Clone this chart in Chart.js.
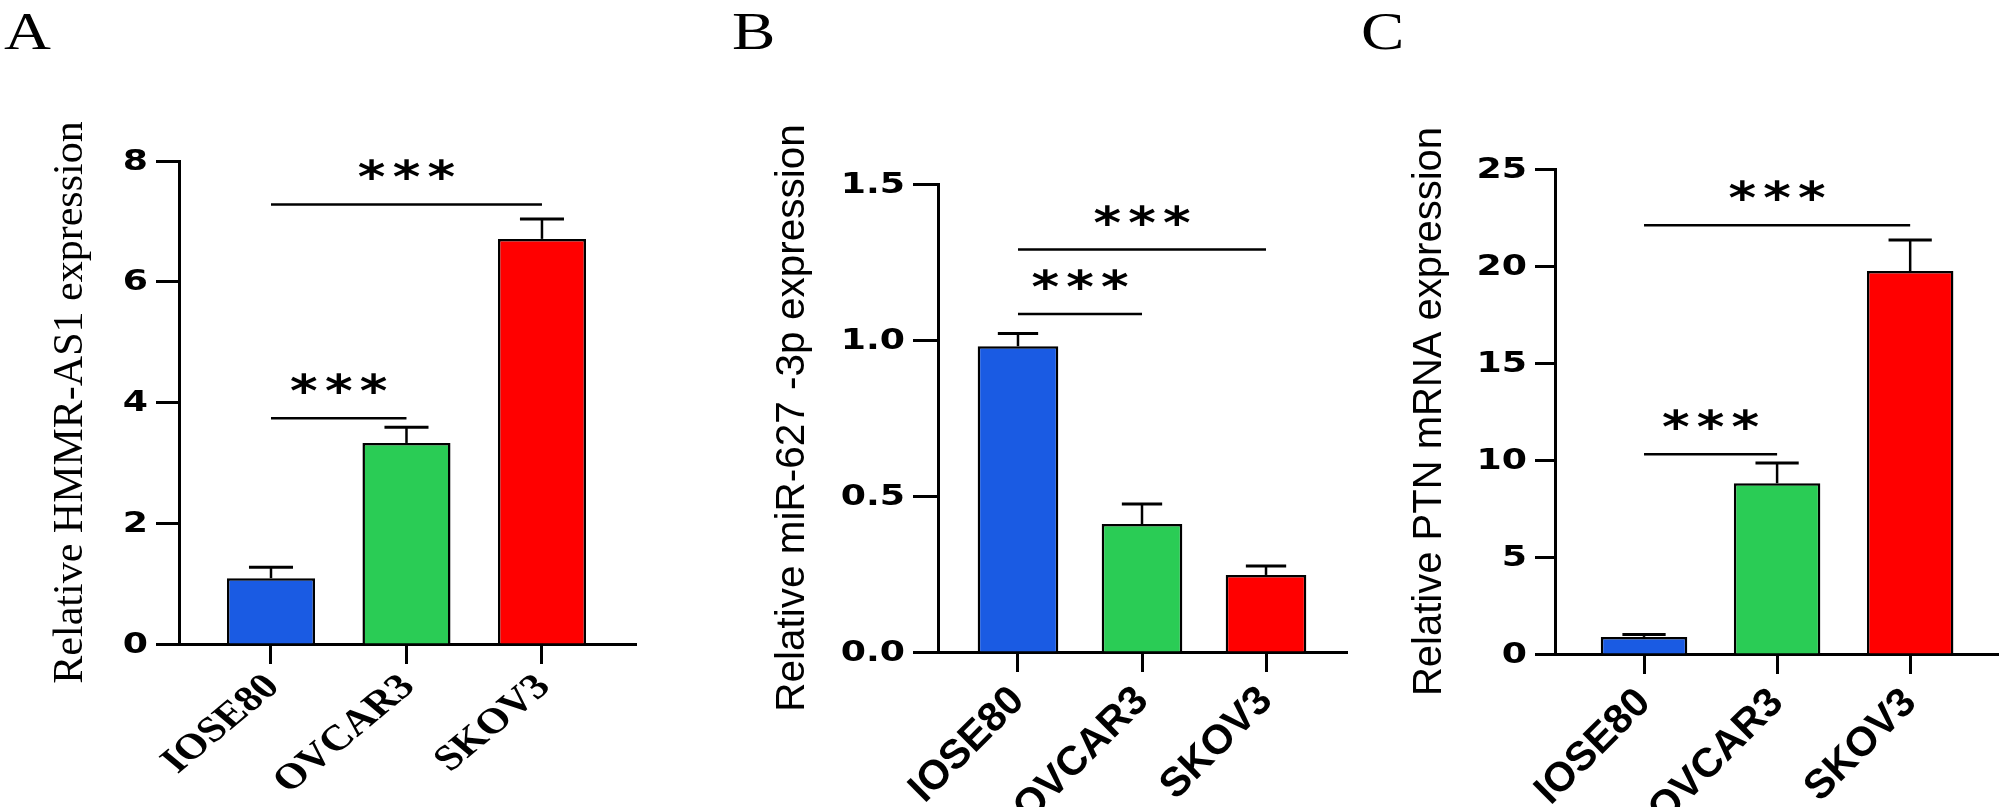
<!DOCTYPE html>
<html>
<head>
<meta charset="utf-8">
<script src="https://cdn.jsdelivr.net/npm/chart.js@4.4.1/dist/chart.umd.min.js"></script>
<style>
  html, body { margin: 0; padding: 0; background: #fff; }
  #wrap { position: relative; width: 2008px; height: 807px; overflow: hidden; background: #fff; }
  #wrap canvas { position: absolute; top: 0; }
  .panel-letter {
    position: absolute; top: 6px; margin: 0;
    font-family: "Liberation Serif", "Times New Roman", serif;
    font-size: 52px; line-height: 1; color: #000;
    transform: scaleX(1.25); transform-origin: left top;
  }
</style>
</head>
<body>
<div id="wrap">
  <canvas id="chart-a" width="680" height="807" style="left:0px"></canvas>
  <canvas id="chart-b" width="670" height="807" style="left:680px"></canvas>
  <canvas id="chart-c" width="658" height="807" style="left:1350px"></canvas>
  <div class="panel-letter" style="left:4px">A</div>
  <div class="panel-letter" style="left:732px">B</div>
  <div class="panel-letter" style="left:1361px">C</div>
</div>
<script>
// --- DATOS ---
const categories = ["IOSE80", "OVCAR3", "SKOV3"];
const barColors = ["#1a5be3", "#2acc55", "#ff0000"];

// A: HMMR-AS1
const hmmrMeans = [1.09, 3.33, 6.71];
const hmmrErrors = [0.18, 0.26, 0.33];
const hmmrTicks = [0, 2, 4, 6, 8];
const hmmrSig = [
  { from: 0, to: 1, level: 3.74, label: "***" },
  { from: 0, to: 2, level: 7.28, label: "***" }
];

// B: miR-627-3p
const mirMeans = [0.98, 0.41, 0.247];
const mirErrors = [0.041, 0.064, 0.029];
const mirTicks = [0, 0.5, 1.0, 1.5];
const mirSig = [
  { from: 0, to: 1, level: 1.083, label: "***" },
  { from: 0, to: 2, level: 1.29, label: "***" }
];

// C: PTN mRNA
const ptnMeans = [0.88, 8.8, 19.74];
const ptnErrors = [0.12, 1.05, 1.6];
const ptnTicks = [0, 5, 10, 15, 20, 25];
const ptnSig = [
  { from: 0, to: 1, level: 10.3, label: "***" },
  { from: 0, to: 2, level: 22.1, label: "***" }
];

// --- PLUGIN: etiquetas de ejes, barras de error y significancia ---
const annotatePlugin = {
  id: "annotate",
  afterDraw(chart, args, opts) {
    const { ctx } = chart;
    const xs = chart.scales.x;
    const ys = chart.scales.y;
    ctx.save();
    ctx.fillStyle = "#000";

    // etiquetas del eje Y (negrita, algo ensanchadas como en la figura)
    ctx.font = "bold 29px 'DejaVu Sans'";
    ctx.textAlign = "right";
    ctx.textBaseline = "middle";
    ys.ticks.forEach((t) => {
      ctx.save();
      ctx.translate(ys.right - opts.tickLen - 8, ys.getPixelForValue(t.value) + 1);
      ctx.scale(1.25, 1);
      ctx.fillText(opts.fmt(t.value), 0, 0);
      ctx.restore();
    });

    // etiquetas del eje X estiradas (solo panel A)
    if (opts.xStretch) {
      ctx.font = opts.xStretch.font;
      ctx.textAlign = "right";
      ctx.textBaseline = "alphabetic";
      xs.ticks.forEach((t) => {
        ctx.save();
        ctx.translate(xs.getPixelForValue(t.value) + opts.xStretch.dx, xs.top + opts.xStretch.dy);
        ctx.scale(opts.xStretch.k, 1);
        ctx.rotate(-Math.PI / 4);
        ctx.fillText(categories[t.value], 0, 0);
        ctx.restore();
      });
    }
    ctx.restore();
  },
  afterDatasetsDraw(chart, args, opts) {
    const { ctx } = chart;
    const xs = chart.scales.x;
    const ys = chart.scales.y;
    const meta = chart.getDatasetMeta(0);
    ctx.save();
    ctx.strokeStyle = "#000";
    ctx.fillStyle = "#000";

    opts.means.forEach((m, i) => {
      const bar = meta.data[i];
      const capHalf = bar.width / 4;
      const yTop = ys.getPixelForValue(m);
      const yErr = ys.getPixelForValue(m + opts.errors[i]);
      ctx.lineWidth = 2.5;
      ctx.beginPath();
      ctx.moveTo(bar.x, yTop);
      ctx.lineTo(bar.x, yErr);
      ctx.stroke();
      ctx.lineWidth = 3;
      ctx.beginPath();
      ctx.moveTo(bar.x - capHalf, yErr);
      ctx.lineTo(bar.x + capHalf, yErr);
      ctx.stroke();
    });

    opts.sig.forEach((s) => {
      const x1 = xs.getPixelForValue(s.from);
      const x2 = xs.getPixelForValue(s.to);
      const ly = ys.getPixelForValue(s.level);
      ctx.lineWidth = 2.5;
      ctx.beginPath();
      ctx.moveTo(x1, ly);
      ctx.lineTo(x2, ly);
      ctx.stroke();

      ctx.save();
      ctx.translate((x1 + x2) / 2, ly - 12);
      ctx.scale(1.2, 1);
      ctx.font = "bold 44px 'DejaVu Sans'";
      ctx.textAlign = "center";
      ctx.textBaseline = "alphabetic";
      ctx.letterSpacing = "6px";
      ctx.fillText(s.label, 3, 0);
      ctx.restore();
    });
    ctx.restore();
  }
};

// --- CONSTRUCCIÓN ---
const buildChart = (canvasId, cfg) => {
  return new Chart(document.getElementById(canvasId), {
    type: "bar",
    data: {
      datasets: [{
        data: cfg.means.map((v, i) => ({ x: i, y: v })),
        backgroundColor: barColors,
        borderColor: "#000",
        borderWidth: 2.5,
        barPercentage: 0.65,
        categoryPercentage: 1
      }]
    },
    options: {
      responsive: false,
      animation: false,
      devicePixelRatio: 1,
      layout: { padding: { left: 0, right: cfg.padRight, top: cfg.padTop, bottom: 0 } },
      plugins: {
        legend: { display: false },
        tooltip: { enabled: false },
        annotate: {
          means: cfg.means, errors: cfg.errors, sig: cfg.sig,
          fmt: cfg.fmt, tickLen: cfg.tickLen, xStretch: cfg.xStretch || null
        }
      },
      scales: {
        x: {
          type: "linear",
          offset: false,
          min: cfg.xMin,
          max: cfg.xMax,
          afterBuildTicks: (s) => { s.ticks = categories.map((_, i) => ({ value: i })); },
          afterFit: (s) => { s.height = cfg.xHeight; },
          grid: { offset: false, drawOnChartArea: false, drawTicks: true, tickLength: 20, tickWidth: 3, tickColor: "#000" },
          border: { display: true, color: "#000", width: 3 },
          ticks: {
            display: !cfg.xStretch,
            autoSkip: false,
            minRotation: 45,
            maxRotation: 45,
            padding: 5,
            color: "#000",
            font: cfg.xFont,
            callback: (v) => categories[v]
          }
        },
        y: {
          min: 0,
          max: cfg.yTicks[cfg.yTicks.length - 1],
          afterBuildTicks: (s) => { s.ticks = cfg.yTicks.map((v) => ({ value: v })); },
          afterFit: (s) => { s.width = cfg.yWidth; },
          grid: { drawOnChartArea: false, drawTicks: true, tickLength: cfg.tickLen, tickWidth: 3, tickColor: "#000" },
          border: { display: true, color: "#000", width: 3 },
          ticks: { display: false },
          title: {
            display: true,
            text: cfg.title,
            color: "#000",
            font: cfg.titleFont,
            padding: { top: cfg.titlePad, bottom: 0 }
          }
        }
      }
    },
    plugins: [annotatePlugin]
  });
};

buildChart("chart-a", {
  means: hmmrMeans, errors: hmmrErrors, sig: hmmrSig, yTicks: hmmrTicks,
  fmt: (v) => String(v),
  title: "Relative HMMR-AS1 expression",
  titleFont: { family: "Liberation Serif", size: 42, weight: "normal", lineHeight: 1 },
  titlePad: 50,
  xFont: { family: "Liberation Serif", size: 36, weight: "bold" },
  xStretch: { font: "bold 36px 'Liberation Serif'", k: 1.2, dx: 10, dy: 44 },
  xMin: -0.679, xMax: 2.694,
  yWidth: 179, padRight: 44, padTop: 161, xHeight: 163, tickLen: 23
});

buildChart("chart-b", {
  means: mirMeans, errors: mirErrors, sig: mirSig, yTicks: mirTicks,
  fmt: (v) => v.toFixed(1),
  title: "Relative miR-627 -3p expression",
  titleFont: { family: "Liberation Sans", size: 40.5, weight: "normal", lineHeight: 1 },
  titlePad: 93,
  xFont: { family: "Liberation Sans", size: 41, weight: "bold" },
  xMin: -0.645, xMax: 2.653,
  yWidth: 258, padRight: 3, padTop: 184, xHeight: 155, tickLen: 25
});

buildChart("chart-c", {
  means: ptnMeans, errors: ptnErrors, sig: ptnSig, yTicks: ptnTicks,
  fmt: (v) => String(v),
  title: "Relative PTN mRNA expression",
  titleFont: { family: "Liberation Sans", size: 40, weight: "normal", lineHeight: 1 },
  titlePad: 60,
  xFont: { family: "Liberation Sans", size: 41, weight: "bold" },
  xMin: -0.669, xMax: 2.66,
  yWidth: 205, padRight: 10, padTop: 169, xHeight: 153, tickLen: 20
});
</script>
</body>
</html>
